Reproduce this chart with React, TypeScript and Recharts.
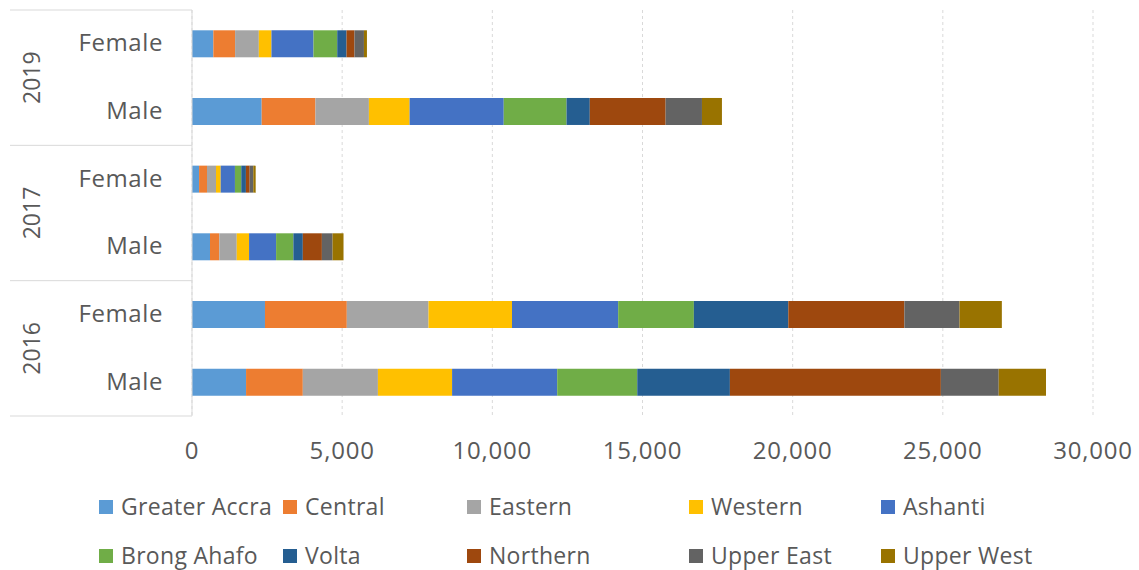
import { Bar, BarChart, CartesianGrid, XAxis, YAxis } from 'recharts'

// rows from top to bottom: 2019 F/M, 2017 F/M, 2016 F/M
const years = ['2019', '2017', '2016']
const sexes = ['Female', 'Male', 'Female', 'Male', 'Female', 'Male']
const xTicks = [0, 5000, 10000, 15000, 20000, 25000, 30000]

const greaterAccra = [710, 2320, 235, 600, 2430, 1800]
const central = [725, 1790, 265, 310, 2725, 1890]
const eastern = [790, 1780, 300, 580, 2720, 2500]
const western = [420, 1355, 155, 410, 2780, 2470]
const ashanti = [1400, 3135, 475, 900, 3535, 3500]
const brongAhafo = [790, 2090, 210, 575, 2520, 2665]
const volta = [310, 775, 155, 315, 3145, 3085]
const northern = [265, 2525, 125, 635, 3865, 7025]
const upperEast = [315, 1210, 120, 355, 1835, 1925]
const upperWest = [100, 665, 80, 365, 1410, 1575]

const series = [
  { key: 'ga', name: 'Greater Accra', values: greaterAccra, color: '#5B9BD5' },
  { key: 'central', name: 'Central', values: central, color: '#ED7D31' },
  { key: 'eastern', name: 'Eastern', values: eastern, color: '#A5A5A5' },
  { key: 'western', name: 'Western', values: western, color: '#FFC000' },
  { key: 'ashanti', name: 'Ashanti', values: ashanti, color: '#4472C4' },
  { key: 'ba', name: 'Brong Ahafo', values: brongAhafo, color: '#70AD47' },
  { key: 'volta', name: 'Volta', values: volta, color: '#255E91' },
  { key: 'northern', name: 'Northern', values: northern, color: '#9E480E' },
  { key: 'ue', name: 'Upper East', values: upperEast, color: '#636363' },
  { key: 'uw', name: 'Upper West', values: upperWest, color: '#997300' },
]

const data = sexes.map((sex, i) => {
  const row: Record<string, string | number> = { id: `${years[Math.floor(i / 2)]}-${sex}` }
  series.forEach((s) => {
    row[s.key] = s.values[i]
  })
  return row
})

const FONT = '"Open Sans", sans-serif'
const TEXT = '#595959'
const FONT_SIZE = 24
const SPACING = 0.6
const PLOT_TOP = 10
const PLOT_BOTTOM = 416
const BAND = (PLOT_BOTTOM - PLOT_TOP) / sexes.length

function CategoryTick(props: any) {
  const { y, index } = props
  return (
    <g>
      <text
        x={163}
        y={y - 2}
        textAnchor="end"
        dominantBaseline="central"
        fill={TEXT}
        fontSize={FONT_SIZE}
        letterSpacing={SPACING}
        fontFamily={FONT}
      >
        {sexes[index]}
      </text>
      {index % 2 === 0 && (
        <>
          <line x1={10} x2={192} y1={y - BAND / 2} y2={y - BAND / 2} stroke="#d9d9d9" />
          <text
            transform={`translate(31, ${y + BAND / 2}) rotate(-90)`}
            textAnchor="middle"
            dominantBaseline="central"
            fill={TEXT}
            fontSize={FONT_SIZE - 1}
            fontFamily={FONT}
          >
            {years[index / 2]}
          </text>
        </>
      )}
      {index === sexes.length - 1 && (
        <line x1={10} x2={192} y1={y + BAND / 2} y2={y + BAND / 2} stroke="#d9d9d9" />
      )}
    </g>
  )
}

function ValueTick(props: any) {
  const { x, payload } = props
  return (
    <text
      x={x}
      y={PLOT_BOTTOM + 43}
      textAnchor="middle"
      fill={TEXT}
      fontSize={FONT_SIZE}
      letterSpacing={0.8}
      fontFamily={FONT}
    >
      {Number(payload.value).toLocaleString('en-US')}
    </text>
  )
}

const legendCols = [99, 283, 467, 689, 881]
const legendRows = [507, 556]

export default function App() {
  return (
    <div style={{ position: 'absolute', left: 0, top: 0, width: 1139, height: 570, background: '#fff' }}>
      <BarChart
        width={1139}
        height={570}
        data={data}
        layout="vertical"
        barCategoryGap="30%"
        margin={{ top: PLOT_TOP, right: 46, left: 0, bottom: 570 - PLOT_BOTTOM - 40 }}
      >
        <CartesianGrid horizontal={false} stroke="#d9d9d9" strokeDasharray="3 3" />
        <XAxis
          type="number"
          domain={[0, 30000]}
          ticks={xTicks}
          axisLine={false}
          tickLine={false}
          height={40}
          tick={<ValueTick />}
        />
        <YAxis
          type="category"
          dataKey="id"
          width={192}
          axisLine={{ stroke: '#d9d9d9' }}
          tickLine={false}
          interval={0}
          tick={<CategoryTick />}
        />
        {series.map((s) => (
          <Bar
            key={s.key}
            dataKey={s.key}
            name={s.name}
            stackId="a"
            fill={s.color}
            isAnimationActive={false}
          />
        ))}
      </BarChart>
      {series.map((s, i) => {
        const col = legendCols[i % 5]
        const row = legendRows[Math.floor(i / 5)]
        return (
          <div
            key={s.key}
            style={{
              position: 'absolute',
              left: col,
              top: row - 16,
              height: 30,
              display: 'flex',
              alignItems: 'center',
              fontFamily: FONT,
              fontSize: 23,
              letterSpacing: 0.3,
              color: TEXT,
              whiteSpace: 'nowrap',
            }}
          >
            <span style={{ width: 14, height: 14, background: s.color, marginRight: 8, marginTop: 2 }} />
            {s.name}
          </div>
        )
      })}
    </div>
  )
}
